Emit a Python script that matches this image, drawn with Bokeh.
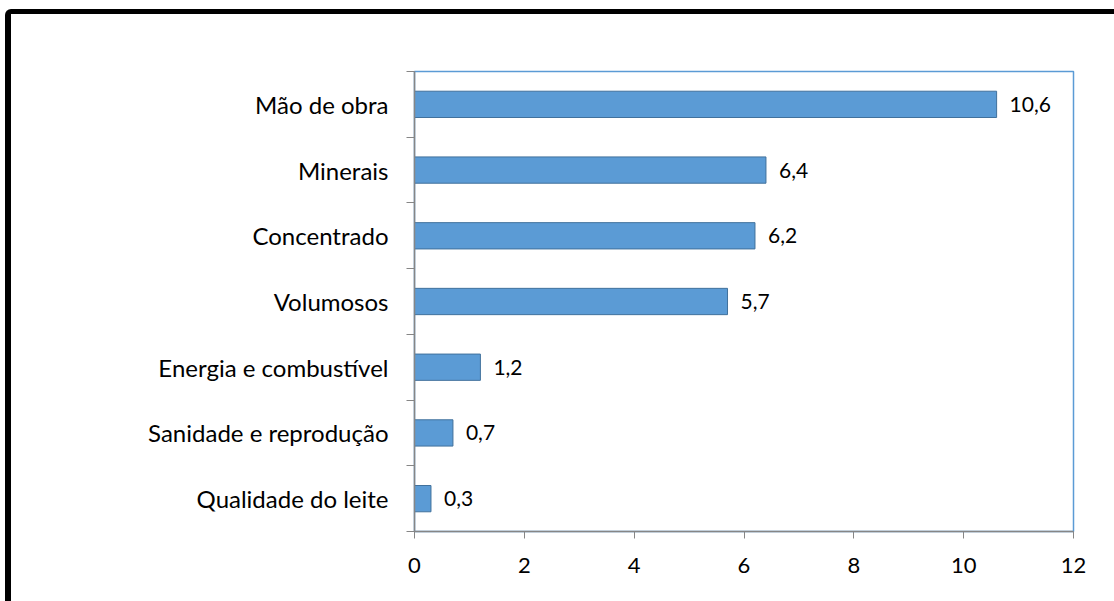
from bokeh.plotting import figure
from bokeh.layouts import column
from bokeh.models import FixedTicker, ColumnDataSource, Range1d
from bokeh.embed import file_html
from bokeh.resources import INLINE
from bokeh.core.properties import value

categories = ["Mão de obra", "Minerais", "Concentrado", "Volumosos",
              "Energia e combustível", "Sanidade e reprodução", "Qualidade do leite"]
values = [10.6, 6.4, 6.2, 5.7, 1.2, 0.7, 0.3]
value_labels = ["10,6", "6,4", "6,2", "5,7", "1,2", "0,7", "0,3"]
x_ticks = [0, 2, 4, 6, 8, 10, 12]

n = len(categories)
ypos = [n - i for i in range(n)]
src = ColumnDataSource(dict(y=ypos, v=values, lab=value_labels, cat=categories))

FONT = "Lato"
p = figure(width=1103, height=587, output_backend="svg", toolbar_location=None,
           x_range=Range1d(0, 12), y_range=Range1d(0.5, n + 0.5),
           min_border_left=403, min_border_right=41, min_border_top=57, min_border_bottom=70)
p.background_fill_color = "white"
p.border_fill_color = "white"
p.outline_line_color = "#5B9BD5"
p.outline_line_width = 1.5
p.xgrid.visible = False
p.ygrid.visible = False

p.hbar(y="y", right="v", left=0, height=0.4, source=src,
       fill_color="#5B9BD5", line_color="#41719C", line_width=1)
p.text(x="v", y="y", text="lab", source=src, x_offset=13, text_baseline="middle",
       text_align="left", text_font=value(FONT), text_font_size="21px", text_color="black")

xa = p.xaxis[0]
xa.ticker = FixedTicker(ticks=x_ticks, minor_ticks=[])
xa.axis_line_color = "#868686"
xa.axis_line_width = 1.5
xa.major_tick_line_color = "#868686"
xa.major_tick_in = 0
xa.major_tick_out = 7
xa.minor_tick_line_color = None
xa.major_label_text_font = FONT
xa.major_label_text_font_size = "22px"
xa.major_label_text_color = "black"
xa.major_label_standoff = 19

ya = p.yaxis[0]
ya.ticker = FixedTicker(ticks=ypos, minor_ticks=[k + 0.5 for k in range(n + 1)])
ya.major_label_overrides = {y: c for y, c in zip(ypos, categories)}
ya.axis_line_color = "#868686"
ya.axis_line_width = 1.5
ya.major_tick_line_color = None
ya.major_tick_in = 0
ya.major_tick_out = 0
ya.minor_tick_line_color = "#868686"
ya.minor_tick_in = 0
ya.minor_tick_out = 8
ya.major_label_text_font = FONT
ya.major_label_text_font_size = "24px"
ya.major_label_text_color = "black"
ya.major_label_standoff = 18

layout = column(p, styles={"border-left": "6px solid black", "border-top": "5px solid black",
                           "border-top-left-radius": "6px", "margin-left": "5px",
                           "margin-top": "9px"})

open("out.html", "w").write(file_html(layout, INLINE))
